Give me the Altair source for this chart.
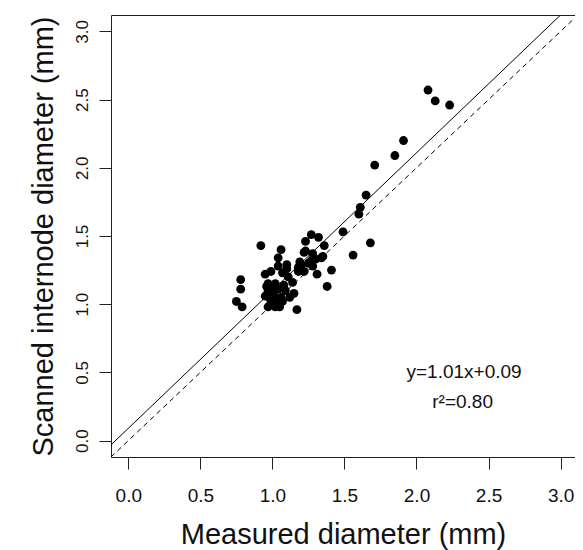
import altair as alt
import pandas as pd

# Measured vs scanned diameters (mm)
measured = [0.75, 0.79, 0.78, 0.78, 0.92,
            0.95, 0.99, 1.07, 1.11, 1.14,
            0.97, 0.97, 0.95, 1.00, 1.04, 1.09, 1.06, 0.99, 0.97, 1.02,
            1.05, 1.07, 1.15, 1.12, 1.17, 1.00, 0.98, 1.03, 1.01, 0.96,
            1.02, 1.08, 1.10, 1.04, 1.06, 1.04, 1.10,
            1.19, 1.18, 1.22, 1.18, 1.20, 1.28, 1.31, 1.27, 1.23, 1.22,
            1.28, 1.35, 1.34, 1.23, 1.36, 1.27, 1.32, 1.41, 1.38, 1.25, 1.30,
            1.49, 1.56, 1.68, 1.60, 1.61, 1.65, 1.71, 1.85, 1.91,
            2.08, 2.13, 2.23]
scanned = [1.02, 0.98, 1.11, 1.18, 1.43,
           1.22, 1.24, 1.23, 1.20, 1.16,
           1.15, 1.10, 1.06, 1.07, 1.11, 1.10, 1.05, 1.02, 0.98, 0.98,
           0.98, 1.02, 1.08, 1.05, 0.96, 1.12, 1.05, 1.04, 1.09, 1.13,
           1.15, 1.14, 1.26, 1.28, 1.40, 1.34, 1.29,
           1.31, 1.24, 1.24, 1.27, 1.29, 1.28, 1.22, 1.32, 1.39, 1.38,
           1.37, 1.35, 1.34, 1.46, 1.43, 1.51, 1.49, 1.25, 1.13, 1.30, 1.33,
           1.53, 1.36, 1.45, 1.66, 1.71, 1.80, 2.02, 2.09, 2.20,
           2.57, 2.49, 2.46]

# Fitted line (from the annotation) and the 1:1 line
fit_slope = 1.01
fit_intercept = 0.09
line_x = [-0.12, 3.12]
axis_ticks = [0.0, 0.5, 1.0, 1.5, 2.0, 2.5, 3.0]
eq_label = "y=1.01x+0.09"
r2_label = "r\u00b2=0.80"

pts = pd.DataFrame({"x": measured, "y": scanned})
fit_df = pd.DataFrame({"x": line_x, "y": [fit_slope * v + fit_intercept for v in line_x]})
one_df = pd.DataFrame({"x": line_x, "y": line_x})
txt_df = pd.DataFrame({"x": [2.33, 2.32], "y": [0.505, 0.28], "t": [eq_label, r2_label]})

xs = alt.Scale(domain=[-0.12, 3.10], nice=False, zero=False)
ys = alt.Scale(domain=[-0.12, 3.12], nice=False, zero=False)

xax = alt.Axis(values=axis_ticks, format=".1f", title="Measured diameter (mm)",
               labelFontSize=19, labelPadding=17, titlePadding=15)
yax = alt.Axis(values=axis_ticks, format=".1f", title="Scanned internode diameter (mm)",
               labelFontSize=17, labelAngle=-90, labelAlign="center", labelBaseline="bottom",
               labelPadding=8, titlePadding=15)

points = alt.Chart(pts).mark_circle(size=78, color="black", opacity=1).encode(
    x=alt.X("x:Q", scale=xs, axis=xax),
    y=alt.Y("y:Q", scale=ys, axis=yax),
)
fit = alt.Chart(fit_df).mark_line(color="black", strokeWidth=1, clip=True).encode(
    x=alt.X("x:Q", scale=xs), y=alt.Y("y:Q", scale=ys))
one = alt.Chart(one_df).mark_line(color="black", strokeWidth=1, strokeDash=[5, 4], clip=True).encode(
    x=alt.X("x:Q", scale=xs), y=alt.Y("y:Q", scale=ys))
txt = alt.Chart(txt_df).mark_text(font="Liberation Sans", fontSize=19, color="#111").encode(
    x=alt.X("x:Q", scale=xs), y=alt.Y("y:Q", scale=ys), text="t:N")

chart = alt.layer(one, fit, points, txt).properties(
    width=464, height=442,
    autosize=alt.AutoSizeParams(type="none"),
    padding={"left": 103, "top": 7, "right": 0, "bottom": 93},
).configure_view(stroke="#222", strokeWidth=1).configure_axis(
    domain=False, grid=False, tickSize=12, tickColor="#222", tickWidth=1,
    labelFont="Liberation Sans", labelColor="#111",
    titleFont="Liberation Sans", titleFontSize=29, titleFontWeight="normal", titleColor="#111",
)

chart.save("out.html", embed_options={"renderer": "svg", "actions": False})
